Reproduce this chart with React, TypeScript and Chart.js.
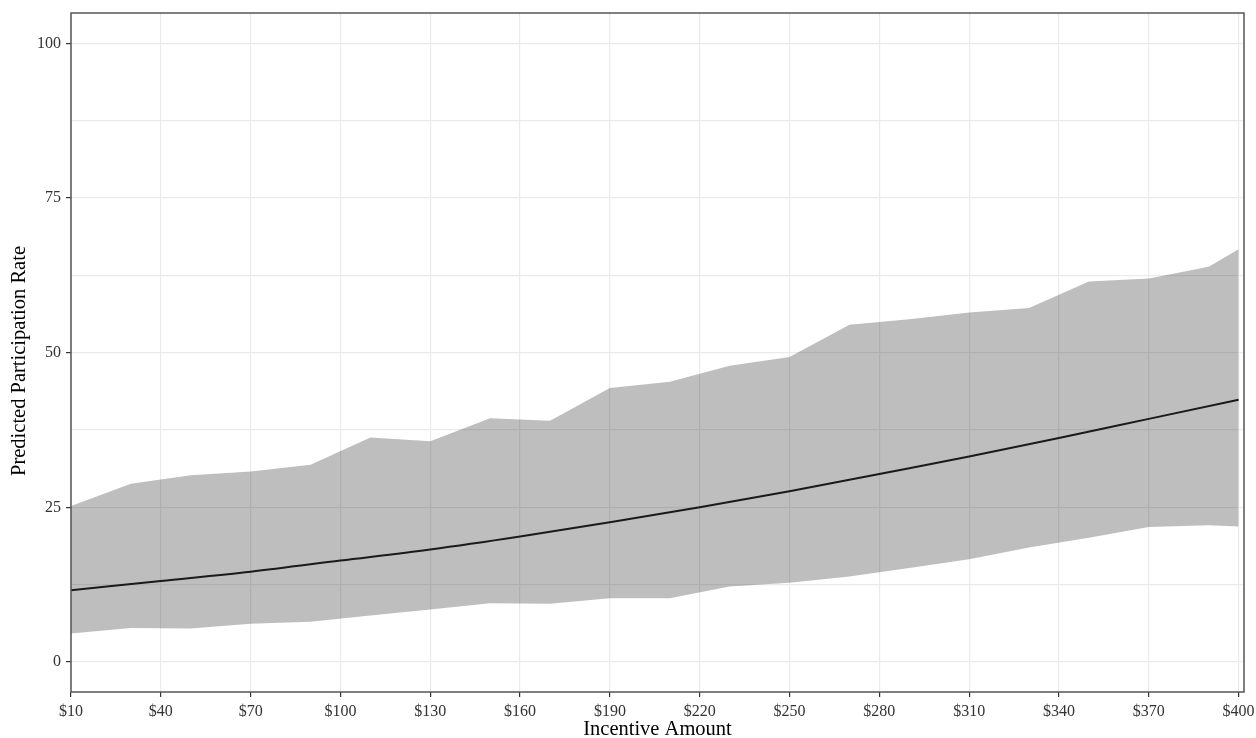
import React, { useEffect, useRef } from "react";
import { Chart, registerables } from "chart.js";

Chart.register(...registerables);

const bandX = [10, 30, 50, 70, 90, 110, 130, 150, 170, 190, 210, 230, 250, 270, 290, 310, 330, 350, 370, 390, 400];
const upperCI = [25.2, 28.8, 30.2, 30.8, 31.9, 36.3, 35.7, 39.4, 39.0, 44.3, 45.3, 47.9, 49.3, 54.5, 55.4, 56.5, 57.2, 61.5, 62.0, 63.9, 66.7];
const lowerCI = [4.6, 5.5, 5.4, 6.2, 6.5, 7.5, 8.5, 9.5, 9.4, 10.3, 10.3, 12.2, 12.8, 13.8, 15.2, 16.6, 18.5, 20.1, 21.8, 22.1, 21.9];

const lineX = [10, 40, 70, 100, 130, 160, 190, 220, 250, 280, 310, 340, 370, 400];
const predicted = [11.6, 13.1, 14.6, 16.4, 18.2, 20.3, 22.6, 25.0, 27.6, 30.4, 33.2, 36.2, 39.3, 42.4];

const xTicks = [10, 40, 70, 100, 130, 160, 190, 220, 250, 280, 310, 340, 370, 400];
const yTicks = [0, 12.5, 25, 37.5, 50, 62.5, 75, 87.5, 100];
const yLabelled = [0, 25, 50, 75, 100];

const xTitle = "Incentive Amount";
const yTitle = "Predicted Participation Rate";

const FONT = "'Liberation Serif', 'Times New Roman', serif";

const panelBorder = {
  id: "panelBorder",
  afterDraw(chart: any) {
    const { ctx, chartArea } = chart;
    ctx.save();
    ctx.strokeStyle = "#555555";
    ctx.lineWidth = 1.5;
    ctx.strokeRect(chartArea.left, chartArea.top, chartArea.right - chartArea.left, chartArea.bottom - chartArea.top);
    ctx.restore();
  },
};

const yAxisTitle = {
  id: "yAxisTitle",
  afterDraw(chart: any) {
    const { ctx } = chart;
    ctx.save();
    ctx.translate(20, 361);
    ctx.rotate(-Math.PI / 2);
    ctx.font = `20.5px ${FONT}`;
    ctx.fillStyle = "#000000";
    ctx.textAlign = "center";
    ctx.textBaseline = "middle";
    ctx.fillText(yTitle, 0, 0);
    ctx.restore();
  },
};

export default function App() {
  const ref = useRef<HTMLCanvasElement | null>(null);

  useEffect(() => {
    if (!ref.current) return;
    const chart = new Chart(ref.current, {
      type: "line",
      data: {
        datasets: [
          {
            label: "Predicted",
            data: lineX.map((x, i) => ({ x, y: predicted[i] })),
            borderColor: "#1a1a1a",
            borderWidth: 2,
            pointRadius: 0,
            fill: false,
            cubicInterpolationMode: "monotone",
          },
          {
            label: "Upper",
            data: bandX.map((x, i) => ({ x, y: upperCI[i] })),
            borderWidth: 0,
            borderColor: "rgba(0,0,0,0)",
            backgroundColor: "rgba(0,0,0,0.255)",
            pointRadius: 0,
            fill: "+1",
            tension: 0,
          },
          {
            label: "Lower",
            data: bandX.map((x, i) => ({ x, y: lowerCI[i] })),
            borderWidth: 0,
            borderColor: "rgba(0,0,0,0)",
            pointRadius: 0,
            fill: false,
            tension: 0,
          },
        ],
      },
      options: {
        responsive: false,
        animation: false,
        layout: { padding: { top: 13, right: 12, left: 0, bottom: 0 } },
        plugins: {
          legend: { display: false },
          tooltip: { enabled: false },
        },
        scales: {
          x: {
            type: "linear",
            min: 10,
            max: 401.8,
            afterBuildTicks: (scale: any) => {
              scale.ticks = xTicks.map((v) => ({ value: v }));
            },
            afterFit: (scale: any) => {
              scale.height = 46;
              scale.paddingLeft = 0;
              scale.paddingRight = 0;
            },
            grid: {
              color: "#ebebeb",
              lineWidth: 1.2,
              drawTicks: true,
              tickLength: 5,
              tickColor: "#333333",
              tickWidth: 1.2,
            },
            border: { display: false },
            ticks: {
              autoSkip: false,
              maxRotation: 0,
              padding: 5,
              color: "#333333",
              font: { family: FONT, size: 16 },
              callback: (v: any) => "$" + v,
            },
            title: {
              display: true,
              text: xTitle,
              color: "#000000",
              font: { family: FONT, size: 20.5, lineHeight: 0.85 },
              padding: { top: 0, bottom: 0 },
            },
          },
          y: {
            type: "linear",
            min: -4.85,
            max: 104.9,
            afterBuildTicks: (scale: any) => {
              scale.ticks = yTicks.map((v) => ({ value: v }));
            },
            afterFit: (scale: any) => {
              scale.width = 71;
              scale.paddingTop = 0;
              scale.paddingBottom = 0;
            },
            grid: {
              color: "#ebebeb",
              lineWidth: 1.2,
              drawTicks: true,
              tickLength: 5,
              tickColor: (ctx: any) => (yLabelled.includes(ctx.tick?.value) ? "#333333" : "rgba(0,0,0,0)"),
              tickWidth: 1.2,
            },
            border: { display: false },
            ticks: {
              autoSkip: false,
              padding: 5,
              color: "#333333",
              font: { family: FONT, size: 16 },
              callback: (v: any) => (yLabelled.includes(v) ? String(v) : ""),
            },
            title: { display: false },
          },
        },
      },
      plugins: [panelBorder, yAxisTitle],
    } as any);
    return () => chart.destroy();
  }, []);

  return (
    <div style={{ position: "absolute", left: 0, top: 0, width: 1256, height: 738, background: "#fff" }}>
      <canvas ref={ref} width={1256} height={738} style={{ display: "block" }} />
    </div>
  );
}
